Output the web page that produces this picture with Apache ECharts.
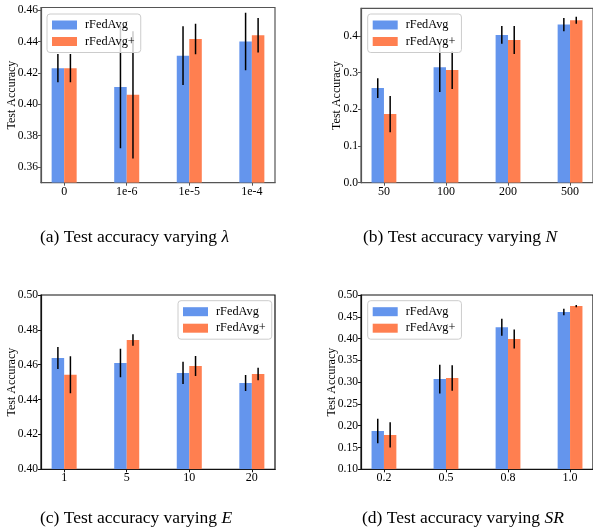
<!DOCTYPE html>
<html>
<head>
<meta charset="utf-8">
<script src="https://cdn.jsdelivr.net/npm/echarts@6/dist/echarts.min.js"></script>
<style>
html,body{margin:0;padding:0;background:#fff;}
#chart{width:593px;height:529px;}
</style>
</head>
<body>
<div id="chart"></div>
<script>
// ---- data ----
var seriesNames = ['rFedAvg', 'rFedAvg+'];
var catsA = ['0', '1e-6', '1e-5', '1e-4'];
var catsB = ['50', '100', '200', '500'];
var catsC = ['1', '5', '10', '20'];
var catsD = ['0.2', '0.5', '0.8', '1.0'];

var aRFedAvg = [0.423, 0.411, 0.431, 0.440];
var aRFedAvgErr = [0.009, 0.039, 0.0187, 0.0183];
var aRFedAvgPlus = [0.423, 0.406, 0.4416, 0.4440];
var aRFedAvgPlusErr = [0.009, 0.0405, 0.0097, 0.011];

var bRFedAvg = [0.258, 0.315, 0.403, 0.431];
var bRFedAvgErr = [0.027, 0.068, 0.024, 0.018];
var bRFedAvgPlus = [0.187, 0.307, 0.389, 0.443];
var bRFedAvgPlusErr = [0.0496, 0.0515, 0.038, 0.0095];

var cRFedAvg = [0.4639, 0.4610, 0.4553, 0.4495];
var cRFedAvgErr = [0.0063, 0.0082, 0.0064, 0.0046];
var cRFedAvgPlus = [0.4542, 0.4742, 0.4593, 0.4547];
var cRFedAvgPlusErr = [0.0106, 0.0033, 0.0057, 0.0036];

var dRFedAvg = [0.188, 0.307, 0.426, 0.461];
var dRFedAvgErr = [0.028, 0.033, 0.0195, 0.0075];
var dRFedAvgPlus = [0.179, 0.3095, 0.399, 0.4746];
var dRFedAvgPlusErr = [0.0287, 0.029, 0.022, 0.0025];

var yTicksA = [0.36, 0.38, 0.40, 0.42, 0.44, 0.46];
var yTicksB = [0.0, 0.1, 0.2, 0.3, 0.4];
var captions = [
  '(a) Test accuracy varying {m|λ}',
  '(b) Test accuracy varying {m|N}',
  '(c) Test accuracy varying {m|E}',
  '(d) Test accuracy varying {m|SR}'
];

// ---- styling / layout ----
var FONT = "'Liberation Serif', 'Times New Roman', Times, serif";
var BLUE = '#6495ED';
var ORANGE = '#FF7F50';
var BW = 0.2;

var panels = [
  {cats: catsA, s1: aRFedAvg, e1: aRFedAvgErr, s2: aRFedAvgPlus, e2: aRFedAvgPlusErr,
   grid: {left: 41, top: 7.5, width: 234, height: 175.2},
   y: {min: 0.35, max: 0.4617, custom: yTicksA, dec: 2}, frame: '#555', nameGap: 23,
   legend: {left: 47, top: 14}, cap: {left: 40, top: 227}},
  {cats: catsB, s1: bRFedAvg, e1: bRFedAvgErr, s2: bRFedAvgPlus, e2: bRFedAvgPlusErr,
   grid: {left: 361, top: 8.3, width: 234, height: 174.4},
   y: {min: 0, max: 0.4755, custom: yTicksB, dec: 1}, frame: '#555', nameGap: 18,
   legend: {left: 367.7, top: 14}, cap: {left: 363, top: 227}},
  {cats: catsC, s1: cRFedAvg, e1: cRFedAvgErr, s2: cRFedAvgPlus, e2: cRFedAvgPlusErr,
   grid: {left: 41, top: 295, width: 234, height: 174.3},
   y: {min: 0.40, max: 0.50, interval: 0.02, dec: 2}, frame: '#111', nameGap: 23,
   legend: {left: 178, top: 300.7}, cap: {left: 40, top: 508}},
  {cats: catsD, s1: dRFedAvg, e1: dRFedAvgErr, s2: dRFedAvgPlus, e2: dRFedAvgPlusErr,
   grid: {left: 361, top: 295, width: 234, height: 174.3},
   y: {min: 0.10, max: 0.50, interval: 0.05, dec: 2}, frame: '#111', nameGap: 23,
   legend: {left: 367.7, top: 300.7}, cap: {left: 362, top: 508}}
];

function makeRender(side, color, yMin) {
  return function (params, api) {
    var x = api.value(0), v = api.value(1), e = api.value(2);
    var x0 = side === 0 ? x - BW : x;
    var x1 = side === 0 ? x : x + BW;
    var xm = (x0 + x1) / 2;
    var pTop = api.coord([x0, v]);
    var pBase = api.coord([x1, Math.max(0, yMin)]);
    var eLo = api.coord([xm, v - e]);
    var eHi = api.coord([xm, v + e]);
    return {
      type: 'group',
      children: [
        {type: 'rect', shape: {x: pTop[0], y: pTop[1], width: pBase[0] - pTop[0], height: pBase[1] - pTop[1]},
         style: {fill: color}},
        {type: 'line', shape: {x1: eLo[0], y1: eLo[1], x2: eHi[0], y2: eHi[1]},
         style: {stroke: '#000', lineWidth: 1.5}}
      ]
    };
  };
}

var option = {
  animation: false,
  backgroundColor: '#fff',
  textStyle: {fontFamily: FONT},
  grid: [], xAxis: [], yAxis: [], series: [], legend: [], title: []
};

panels.forEach(function (p, i) {
  option.grid.push(Object.assign({show: true, borderColor: p.frame, borderWidth: 1.2, backgroundColor: 'transparent', containLabel: false}, p.grid));
  option.xAxis.push({
    type: 'value', gridIndex: i, min: -0.37, max: 3.37,
    axisLine: {show: true, onZero: false, lineStyle: {color: p.frame, width: 1.2}},
    axisTick: {show: true, length: 3, lineStyle: {color: p.frame}, customValues: [0, 1, 2, 3]},
    axisLabel: {customValues: [0, 1, 2, 3], color: '#000', fontSize: 12, fontFamily: FONT, margin: 3,
      formatter: (function (cats) { return function (v) { return cats[Math.round(v)]; }; })(p.cats)},
    splitLine: {show: false}
  });
  var ya = {
    type: 'value', gridIndex: i, min: p.y.min, max: p.y.max,
    name: 'Test Accuracy', nameLocation: 'middle', nameGap: p.nameGap, nameRotate: 90,
    nameMoveOverlap: false,
    nameTextStyle: {color: '#000', fontSize: 12, fontFamily: FONT},
    axisLine: {show: true, onZero: false, lineStyle: {color: p.frame, width: 1.2}},
    axisTick: {show: true, length: 3, lineStyle: {color: p.frame}},
    axisLabel: {color: '#000', fontSize: 11.6, fontFamily: FONT, margin: 3, showMaxLabel: true, showMinLabel: true,
      formatter: (function (d) { return function (v) { return v.toFixed(d); }; })(p.y.dec)},
    splitLine: {show: false}
  };
  if (p.y.custom) {
    ya.axisLabel.customValues = p.y.custom;
    ya.axisTick.customValues = p.y.custom;
  } else {
    ya.interval = p.y.interval;
  }
  option.yAxis.push(ya);

  var d1 = p.s1.map(function (v, k) { return [k, v, p.e1[k]]; });
  var d2 = p.s2.map(function (v, k) { return [k, v, p.e2[k]]; });
  option.series.push({
    type: 'custom', name: seriesNames[0], xAxisIndex: i, yAxisIndex: i, clip: true,
    itemStyle: {color: BLUE}, renderItem: makeRender(0, BLUE, p.y.min), data: d1,
    encode: {x: 0, y: [1]}
  });
  option.series.push({
    type: 'custom', name: seriesNames[1], xAxisIndex: i, yAxisIndex: i, clip: true,
    itemStyle: {color: ORANGE}, renderItem: makeRender(1, ORANGE, p.y.min), data: d2,
    encode: {x: 0, y: [1]}
  });

  option.legend.push({
    data: [{name: seriesNames[0], icon: 'rect'}, {name: seriesNames[1], icon: 'rect'}],
    left: p.legend.left, top: p.legend.top, orient: 'vertical', z: 20,
    itemWidth: 25, itemHeight: 9, itemGap: 3.5,
    padding: [4.5, 6, 4.5, 5],
    backgroundColor: 'rgba(255,255,255,0.8)', borderColor: '#ccc', borderWidth: 1, borderRadius: 3,
    selectedMode: false,
    textStyle: {color: '#000', fontSize: 12.3, fontFamily: FONT, lineHeight: 13, padding: [0, 0, 0, 3]}
  });

  option.title.push({
    text: captions[i], left: p.cap.left, top: p.cap.top, padding: 0,
    textStyle: {color: '#000', fontSize: 17.5, fontWeight: 'normal', fontFamily: FONT, lineHeight: 20,
      rich: {m: {fontStyle: 'italic', fontSize: 17.5, fontFamily: FONT, color: '#000', lineHeight: 20}}}
  });
});

var chart = echarts.init(document.getElementById('chart'), null, {renderer: 'canvas'});
chart.setOption(option);
</script>
</body>
</html>
